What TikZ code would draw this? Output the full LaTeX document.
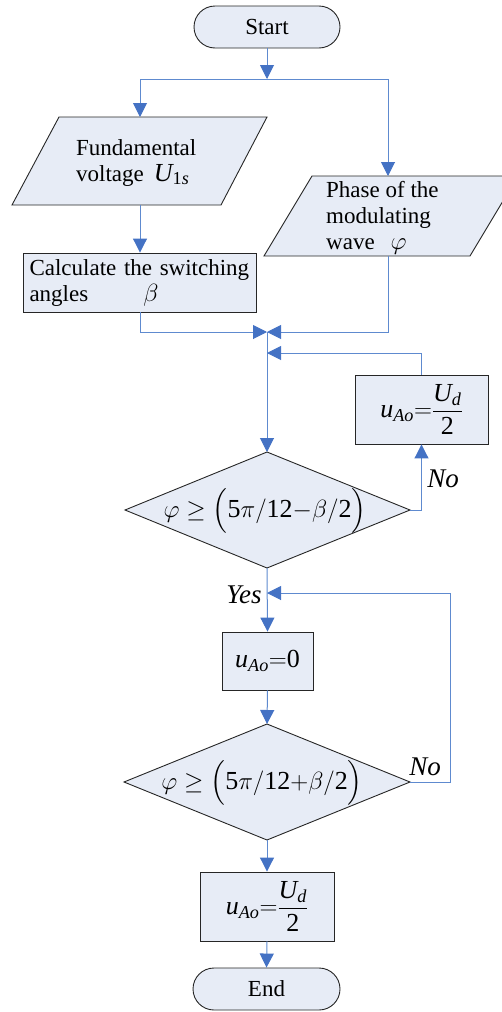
\documentclass[tikz,border=0pt]{standalone}
\usepackage{amsmath}
\usepackage{fontspec}
\setmainfont{Liberation Serif}
\usetikzlibrary{arrows.meta,calc}
\definecolor{boxfill}{HTML}{E7ECF6}
\definecolor{linec}{HTML}{5E8ACF}
\definecolor{arrowc}{HTML}{4472C4}
\newcommand{\mi}[1]{\mathit{#1}}
\newcommand{\mr}[1]{\mathrm{#1}}
\tikzset{
  shapebox/.style={draw=black!85, line width=0.9pt, fill=boxfill},
  rectbox/.style={shapebox, rectangle, inner sep=0pt, align=center},
  termbox/.style={shapebox, rectangle, rounded corners=21pt, inner sep=0pt},
  conn/.style={draw=linec, line width=1pt, -{Triangle[length=14pt,width=14pt,color=arrowc]}},
  txt/.style={inner sep=0pt, align=left},
  bigmath/.style={font=\fontsize{26}{29}\selectfont},
  lbl/.style={inner sep=0pt, font=\fontsize{27}{30}\selectfont\itshape}
}
\begin{document}
\begin{tikzpicture}[x=1pt,y=-1pt,font=\fontsize{23}{26}\selectfont]
\useasboundingbox (0,0) rectangle (502,1012);

% terminators and boxes
\node[termbox, minimum width=146pt, minimum height=42pt] (start) at (267,27) {Start};

\draw[shapebox] (59,117) -- (267,117) -- (221,205) -- (12,205) -- cycle;
\coordinate (p1top) at (140,117);
\coordinate (p1bot) at (140,205);
\node[txt, anchor=north west] (p1text) at (76,139) {Fundamental\\voltage\hspace{10pt}{\fontsize{26}{26}\selectfont$\mi{U}_{\mr{1}\mi{s}}$}};

\draw[shapebox] (312,176) -- (518,176) -- (470,256) -- (264,256) -- cycle;
\coordinate (p2top) at (388,176);
\coordinate (p2bot) at (388,256);
\node[txt, anchor=north west] (p2text) at (326,181) {Phase of the\\modulating\\wave\hspace{16pt}{\fontsize{26}{26}\selectfont$\varphi$}};

\node[rectbox, minimum width=233pt, minimum height=59pt, text width=221pt, align=left] (calc) at (140,282.5)
  {Calculate the switching\\angles\hspace{55pt}{\fontsize{26}{26}\selectfont$\beta$}};

\node[rectbox, bigmath, minimum width=133pt, minimum height=69pt] (b1) at (421.5,409.5)
  {$\mi{u}_{\mi{Ao}}{=}\dfrac{\mi{U}_{\mi{d}}}{\mr{2}}$};

\draw[shapebox] (267,452) coordinate (d1t) -- (410,510) coordinate (d1r) -- (267,568) coordinate (d1b) -- (125,510) coordinate (d1l) -- cycle;
\node[txt, bigmath] (d1text) at (265,511) {$\varphi \geq \Bigl(\mr{5}\pi/\mr{12}{-}\beta/\mr{2}\Bigr)$};

\node[rectbox, bigmath, minimum width=91pt, minimum height=58pt] (b2) at (267.5,661) {$\mi{u}_{\mi{Ao}}{=}\mr{0}$};

\draw[shapebox] (267,724) coordinate (d2t) -- (410,782) coordinate (d2r) -- (267,840) coordinate (d2b) -- (124,782) coordinate (d2l) -- cycle;
\node[txt, bigmath] (d2text) at (262,783) {$\varphi \geq \Bigl(\mr{5}\pi/\mr{12}{+}\beta/\mr{2}\Bigr)$};

\node[rectbox, bigmath, minimum width=134pt, minimum height=69pt] (b3) at (267,906.5)
  {$\mi{u}_{\mi{Ao}}{=}\dfrac{\mi{U}_{\mi{d}}}{\mr{2}}$};

\node[termbox, minimum width=147pt, minimum height=42pt] (end) at (266.5,989) {End};

% junction points
\coordinate (j1) at (267,79);
\coordinate (m1) at (267,332);
\coordinate (m2) at (267,353);
\coordinate (m3) at (267,593);
\coordinate (c2) at (450,782);

% connectors
\draw[conn] (start) -- (j1);
\draw[conn] (j1) -| (p1top);
\draw[conn] (j1) -| (p2top);
\draw[conn] (p1bot) -- (calc.north);
\draw[conn] (calc.south) |- (m1);
\draw[conn] (p2bot) |- (m1);
\draw[conn] (m1) -- (d1t);
\draw[conn] (b1.north) |- (m2);
\draw[conn] (d1r) -| (b1.south);
\draw[conn] (d1b) -- (b2.north);
\draw[conn] (d2r) -- (c2) |- (m3);
\draw[conn] (b2.south) -- (d2t);
\draw[conn] (d2b) -- (b3.north);
\draw[conn] (b3.south) -- (end.north);

% labels
\node[lbl] (no1) at (443,479) {No};
\node[lbl] (yes) at (244,595) {Yes};
\node[lbl] (no2) at (425,767) {No};
\end{tikzpicture}
\end{document}
